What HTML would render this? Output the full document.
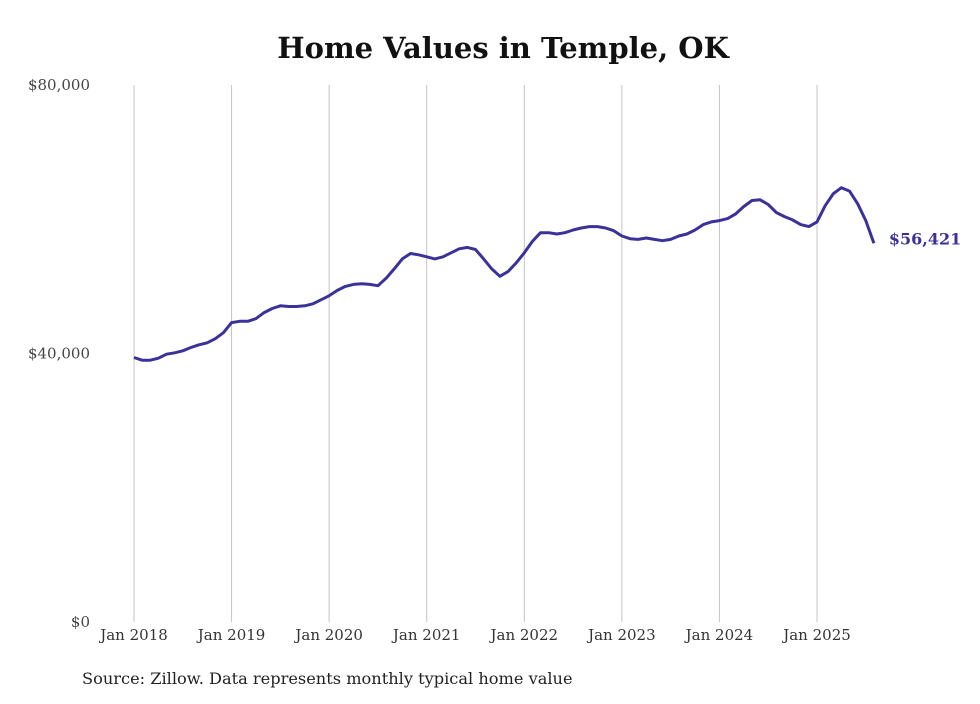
<!DOCTYPE html>
<html><head><meta charset="utf-8"><style>
body{margin:0;background:#fff;}
svg text{font-family:"DejaVu Serif","Liberation Serif",serif;}
</style></head><body>
<svg width="980" height="699" id="c">
<text x="503" y="58" text-anchor="middle" font-size="29" font-weight="bold" fill="#111">Home Values in Temple, OK</text>
<text x="82" y="684" font-size="16.2" fill="#222">Source: Zillow. Data represents monthly typical home value</text>
<g id="grid"></g><g id="ylab"></g><g id="xlab"></g>
<path id="line" fill="none" stroke="#3b3299" stroke-width="3" stroke-linejoin="round"/>
<text id="endlab" font-size="16" font-weight="bold" fill="#3b3299"></text>
</svg>
<script>
const yTicks=[0,40000,80000];
const yTickLabels=["$0","$40,000","$80,000"];
const xYears=["Jan 2018","Jan 2019","Jan 2020","Jan 2021","Jan 2022","Jan 2023","Jan 2024","Jan 2025"];
const values=[39400,39000,39000,39300,39900,40100,40400,40900,41300,41600,42200,43100,
44600,44800,44800,45200,46100,46700,47100,47000,47000,47100,47400,48000,
48600,49400,50000,50300,50400,50300,50100,51200,52600,54100,54900,54700,
54400,54100,54400,55000,55600,55800,55500,54100,52600,51500,52200,53500,
55000,56700,58000,58000,57800,58000,58400,58700,58900,58900,58700,58300,
57500,57100,57000,57200,57000,56800,57000,57500,57800,58400,59200,59600,
59800,60100,60800,61900,62800,62900,62200,61000,60400,59900,59200,58900,
59600,62000,63800,64700,64200,62300,59800,56421];
const endLabel="$56,421";
const NS="http://www.w3.org/2000/svg";
const x=i=>134+i*(817-134)/84;
const y=v=>622-v*(622-85)/80000;
function mk(t,a,p){const e=document.createElementNS(NS,t);for(const k in a)e.setAttribute(k,a[k]);p.appendChild(e);return e;}
const g=document.getElementById('grid'),yl=document.getElementById('ylab'),xl=document.getElementById('xlab');
xYears.forEach((lab,k)=>{
 const X=x(k*12);
 const l=mk('line',{x1:X,x2:X,y1:85,y2:622,stroke:'#c4c4c4','stroke-width':1},g);
 
 
 const t=mk('text',{x:X,y:640,'text-anchor':'middle','font-size':15,fill:'#333'},xl);
 t.textContent=lab;
 
 
});
yTicks.forEach((v,k)=>{
 const t=mk('text',{x:90,y:y(v)+5,'text-anchor':'end','font-size':15,fill:'#444'},yl);
 t.textContent=yTickLabels[k];
 
 
});
let d='';values.forEach((v,i)=>{d+=(i?'L':'M')+x(i).toFixed(1)+','+y(v).toFixed(1);});
document.getElementById('line').setAttribute('d',d);
const n=values.length-1,el=document.getElementById('endlab');
el.setAttribute('x',x(n)+15);el.setAttribute('y',y(values[n])+1);el.textContent=endLabel;
</script>
</body></html>
